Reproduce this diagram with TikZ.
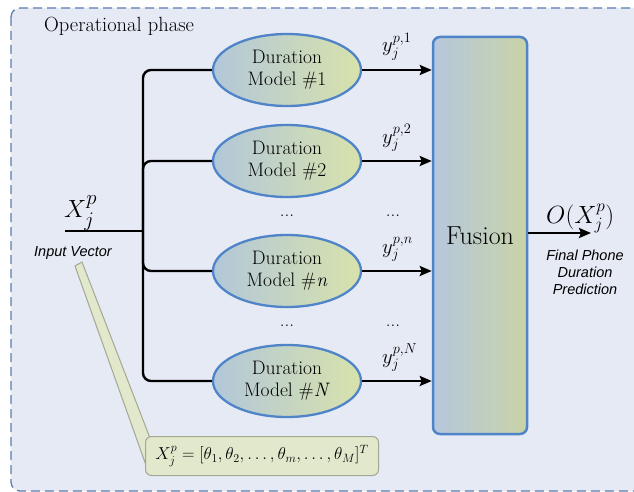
\documentclass[tikz,border=0pt]{standalone}
\usepackage{amsmath}
\usepackage{fontspec}
\setsansfont{Liberation Sans}
\usetikzlibrary{arrows.meta,shapes.geometric}
\definecolor{bg}{HTML}{E6EAF5}
\definecolor{frame}{HTML}{5B7DB0}
\definecolor{ellL}{HTML}{B2C7D9}
\definecolor{ellR}{HTML}{D8E2AB}
\definecolor{fusL}{HTML}{B5C7DD}
\definecolor{fusR}{HTML}{C9D3A6}
\definecolor{blueb}{HTML}{4F84C8}
\definecolor{callfill}{HTML}{E2E8CC}
\definecolor{callborder}{HTML}{A3A894}
\tikzset{
  model/.style={ellipse, draw=blueb, line width=2.3pt, left color=ellL, right color=ellR,
    minimum width=148pt, minimum height=72pt, inner sep=0pt, align=center,
    font=\rmfamily\fontsize{19.5}{22}\selectfont},
  fusionbox/.style={rectangle, rounded corners=7pt, draw=blueb, line width=2.5pt,
    left color=fusL, right color=fusR, minimum width=94pt, minimum height=397pt,
    font=\rmfamily\fontsize{26}{26}\selectfont},
  wire/.style={line width=2.4pt, black},
  arr/.style={line width=2.4pt, black, -{Stealth[length=12pt,width=10pt,inset=2pt]}},
  ylab/.style={anchor=base west, inner sep=0pt, font=\rmfamily\fontsize{22}{22}\selectfont},
  dots/.style={anchor=base, inner sep=0pt, font=\rmfamily\fontsize{19}{19}\selectfont},
  smallsans/.style={font=\sffamily\itshape\fontsize{14.5}{17}\selectfont, align=center, inner sep=0pt},
}
\begin{document}
\begin{tikzpicture}[x=1pt,y=-1pt]
\useasboundingbox (0,0) rectangle (634,492);
\begin{scope}
\clip (0,0) rectangle (634,492);
\draw[draw=frame, fill=bg, line width=1.3pt, dash pattern=on 9pt off 5pt, rounded corners=9pt] (11,8) rectangle (660,491);
\end{scope}
\node[anchor=base west, inner sep=0pt, font=\rmfamily\fontsize{20.5}{21}\selectfont] (title) at (44,32) {Operational phase};

% callout
\path[fill=callfill, draw=callborder, line width=1pt] (75,266) -- (82,262) -- (150,438) -- (147,468) -- cycle;
\node[draw=callborder, fill=callfill, line width=1pt, rounded corners=6pt, minimum width=233pt, minimum height=39pt, inner sep=0pt, font=\rmfamily\fontsize{17}{17}\selectfont] (formula) at (262,456) {$X_j^p = [\theta_1,\theta_2,\ldots,\theta_m,\ldots,\theta_M]^T$};

% models
\node[model] (m1) at (287,70) {Duration\\Model \#1};
\node[model] (m2) at (287,161) {Duration\\Model \#2};
\node[model] (mn) at (287,271) {Duration\\Model \#\textit{n}};
\node[model] (mN) at (287,381) {Duration\\Model \#\textit{N}};

% fusion
\node[fusionbox] (f) at (480,235.5) {Fusion};

% input
\coordinate (in) at (65,231);
\coordinate (bus) at (143,231);
\node[anchor=base west, inner sep=0pt, font=\rmfamily\fontsize{30}{30}\selectfont] (xlab) at (64,217) {$X_j^p$};
\node[smallsans] (inlab) at (73,253) {Input Vector};
\draw[wire] (in) -- (bus);
\foreach \m in {m1,m2,mn,mN} {
  \draw[wire, rounded corners=8pt] (bus) |- (\m.west);
  \draw[arr] (\m.east) -- (\m.east -| f.west);
}

% y labels
\node[ylab] (y1) at (382,52) {$y_j^{p,1}$};
\node[ylab] (y2) at (382,143) {$y_j^{p,2}$};
\node[ylab] (yn) at (382,253) {$y_j^{p,n}$};
\node[ylab] (yN) at (382,363) {$y_j^{p,N}$};

% dots
\node[dots] (d1) at (287,216) {...};
\node[dots] (d2) at (287,326) {...};
\node[dots] (d3) at (393,216) {...};
\node[dots] (d4) at (393,326) {...};

% output
\coordinate (out) at (591,233);
\draw[arr] (f.east |- out) -- (out);
\node[anchor=base west, inner sep=0pt, font=\rmfamily\fontsize{27}{27}\selectfont] (olab) at (546,223) {$O(X_j^p)$};
\node[smallsans] (outlab) at (585,272) {Final Phone\\Duration\\Prediction};
\end{tikzpicture}
\end{document}
